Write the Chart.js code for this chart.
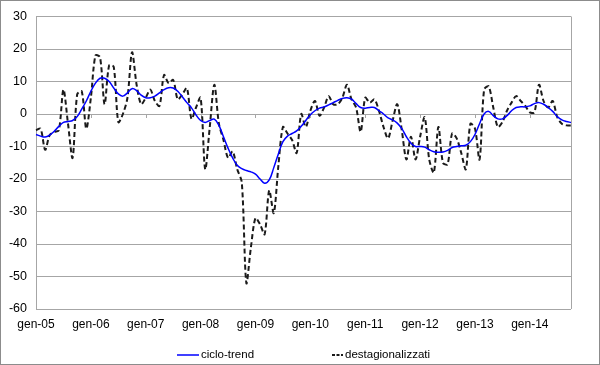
<!DOCTYPE html>
<html>
<head>
<meta charset="utf-8">
<script src="https://cdn.jsdelivr.net/npm/chart.js@4.4.0/dist/chart.umd.min.js"></script>
<style>
  html, body { margin: 0; padding: 0; background: #fff; }
  #wrap { width: 600px; height: 365px; }
</style>
</head>
<body>
<div id="wrap"><canvas id="chart" width="600" height="365"></canvas></div>
<script>
// Month names and years for the category axis
const monthNames = ['gen', 'feb', 'mar', 'apr', 'mag', 'giu', 'lug', 'ago', 'set', 'ott', 'nov', 'dic'];
const years = ['05', '06', '07', '08', '09', '10', '11', '12', '13', '14'];
const pointCount = 118; // gen-05 .. ott-14

// Ciclo-trend (blue line)
const cicloTrend = [
    -6.3, -6.8, -7.1, -6.5, -5.3, -3.8, -2.6, -2.3, -2.0, -0.8, 1.5, 4.0,
    7.0, 9.5, 11.0, 11.0, 10.0, 8.0, 6.2, 5.5, 6.5, 7.8, 7.2, 5.8,
    5.0, 5.0, 5.5, 6.5, 7.5, 8.1, 8.0, 7.0, 5.3, 3.5, 1.9, -0.3,
    -2.0, -2.6, -2.0, -1.6, -3.5, -7.0, -10.5, -13.5, -15.8, -16.8, -17.4, -17.8,
    -18.5, -20.0, -21.3, -20.3, -16.5, -12.3, -8.5, -6.8, -6.0, -5.2, -3.8, -2.0,
    -0.2, 1.0, 1.8, 2.2, 2.8, 3.5, 4.2, 4.8, 5.0, 4.6, 3.2, 2.0,
    1.8, 2.0, 2.0, 1.0, 0.0, -1.2, -1.8, -2.8, -4.5, -7.0, -9.0, -10.0,
    -10.0, -10.2, -11.0, -11.6, -11.8, -11.7, -11.2, -10.3, -10.0, -9.8, -9.6, -8.5,
    -6.3, -3.0, 0.0, 0.8, -0.5, -1.5, -1.5, -0.5, 1.0, 2.0, 2.2, 2.2,
    2.5, 3.2, 3.5, 3.0, 2.0, 0.8, -0.8, -1.8, -2.3, -2.6
];

// Destagionalizzati (black dashed line)
const destagionalizzati = [
    -5, -4.5, -11, -6.5, -5.5, -5, 7.5, -3, -13.5, 6, 7, -4.5,
    5, 18, 17.5, 3, 15, 14.5, -2.5, 0, 5, 19, 9, 3,
    5, 7.5, 4, 2.5, 12, 9.5, 10.5, 4.5, 6, 8, -1.5, 2,
    5, -17, -4, 9, -3, -8, -13.5, -11.5, -17, -21, -52, -41,
    -32, -34, -37, -23.5, -30.5, -16, -4, -6, -8, -12, 0, -4,
    1, 4, -0.5, 2, 5.5, 3, 3, 5, 9, 4.5, 2, -5.5,
    5, 3.5, 4.5, 1, -4, -7.5, -2, 3, -5, -14, -7, -14,
    -7, -1, -14, -18, -4, -15, -15.5, -6, -7.5, -12, -17, -3,
    -4.5, -14, 7.5, 8.5, 2, -4, -2.5, 1, 3.5, 5.5, 4, 2.5,
    0.5, 0.5, 9, 4, 2, 4, -1, -3, -3.5, -3.5
];

// Build month labels
const labels = [];
years.forEach(y => monthNames.forEach(m => labels.push(m + '-' + y)));
labels.length = pointCount;

const fontFamily = '"Liberation Sans", Arial, sans-serif';
const gridColor = '#a6a6a6';

// Plugin: outer border, plot area right edge, year ticks on the zero line
const frame = {
    id: 'frame',
    beforeDraw(chart) {
        const ctx = chart.ctx;
        ctx.save();
        ctx.strokeStyle = '#8c8c8c';
        ctx.lineWidth = 1;
        ctx.strokeRect(0.5, 0.5, chart.width - 1, chart.height - 1);
        ctx.restore();
    },
    beforeDatasetsDraw(chart) {
        const { ctx, chartArea, scales } = chart;
        ctx.save();
        ctx.strokeStyle = gridColor;
        ctx.lineWidth = 1;
        ctx.beginPath();
        ctx.moveTo(Math.round(chartArea.right) + 0.5, chartArea.top);
        ctx.lineTo(Math.round(chartArea.right) + 0.5, chartArea.bottom);
        const y0 = Math.round(scales.y.getPixelForValue(0));
        labels.forEach((l, i) => {
            if (l.startsWith('gen') && i > 0) {
                const x = Math.round(scales.x.getPixelForValue(i)) + 0.5;
                ctx.moveTo(x, y0);
                ctx.lineTo(x, y0 + 4);
            }
        });
        ctx.stroke();
        ctx.restore();
    }
};

// Plugin: simple legend at the bottom (Excel style spacing)
const bottomLegend = {
    id: 'bottomLegend',
    afterDraw(chart) {
        const ctx = chart.ctx;
        const y = 355;
        const items = [
            { ds: chart.data.datasets[0], x1: 177, x2: 199, dash: [] },
            { ds: chart.data.datasets[1], x1: 332, x2: 343, dash: [3, 1.5] }
        ];
        ctx.save();
        ctx.font = '11.5px ' + fontFamily;
        ctx.textBaseline = 'middle';
        ctx.fillStyle = '#000';
        items.forEach(it => {
            ctx.strokeStyle = it.ds.borderColor;
            ctx.lineWidth = it.ds.borderWidth;
            ctx.setLineDash(it.dash);
            ctx.beginPath();
            ctx.moveTo(it.x1, y);
            ctx.lineTo(it.x2, y);
            ctx.stroke();
            ctx.setLineDash([]);
            ctx.fillText(it.ds.label, it.x2 + 2, y);
        });
        ctx.restore();
    }
};

new Chart(document.getElementById('chart'), {
    type: 'line',
    data: {
        labels: labels,
        datasets: [{
            label: 'ciclo-trend',
            data: cicloTrend,
            borderColor: '#0000ff',
            backgroundColor: '#0000ff',
            borderWidth: 1.5,
            pointRadius: 0,
            tension: 0.4
        }, {
            label: 'destagionalizzati',
            data: destagionalizzati,
            borderColor: '#1a1a1a',
            backgroundColor: '#1a1a1a',
            borderWidth: 2,
            borderDash: [5, 3],
            pointRadius: 0,
            tension: 0.3
        }]
    },
    options: {
        responsive: false,
        animation: false,
        layout: { padding: { top: 15, right: 29, left: 0, bottom: 26 } },
        plugins: {
            legend: { display: false },
            tooltip: { enabled: false }
        },
        scales: {
            x: {
                offset: false,
                grid: { display: false, drawTicks: false },
                border: { display: false },
                afterFit(scale) { scale.height = 30; },
                ticks: {
                    autoSkip: false,
                    maxRotation: 0,
                    minRotation: 0,
                    padding: 8,
                    color: '#000',
                    font: { family: fontFamily, size: 12 },
                    callback: function(value, index) {
                        return labels[index].startsWith('gen') ? labels[index] : '';
                    }
                }
            },
            y: {
                min: -60,
                max: 30,
                grid: { color: gridColor, lineWidth: 1, drawTicks: false },
                border: { display: true, color: gridColor },
                afterFit(scale) { scale.width = 36; },
                ticks: {
                    stepSize: 10,
                    padding: 9,
                    color: '#000',
                    font: { family: fontFamily, size: 12.5 }
                }
            }
        }
    },
    plugins: [frame, bottomLegend]
});
</script>
</body>
</html>
